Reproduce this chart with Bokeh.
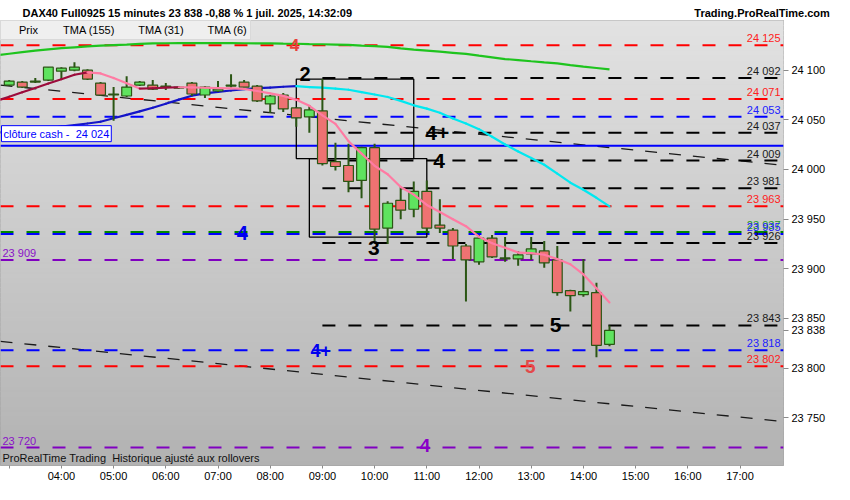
import numpy as np
from bokeh.plotting import figure
from bokeh.models import Range1d, FixedTicker, Label, Legend, LegendItem
from bokeh.embed import file_html
from bokeh.resources import INLINE

# ---------------- texts ----------------
title_text = "DAX40 Full0925 15 minutes 23 838 -0,88 % 1 juil. 2025, 14:32:09"
site_text = "Trading.ProRealTime.com"
footer_text = "ProRealTime Trading\u00a0 Historique ajusté aux rollovers"
cash_text = "clôture cash -\u00a0 24 024"
legend_labels = ["Prix", "TMA (155)", "TMA (31)", "TMA (6)"]

# ---------------- candles (15 minutes, from 03:00) ----------------
first_candle = "03:00"
candle_minutes = 15
opens = [24085, 24088, 24088, 24090, 24099, 24100, 24100, 24087, 24075, 24074,
         24085, 24085, 24084, 24082, 24087, 24075, 24079, 24084, 24088, 24084,
         24066, 24075, 24062, 24053, 24059, 24008, 24004, 23989, 24022, 23941,
         23969, 23960, 23978, 23944, 23939, 23923, 23907, 23931, 23910, 23910,
         23915, 23918, 23909, 23878, 23874, 23876, 23824]
highs = [24090, 24089, 24092, 24103, 24103, 24108, 24101, 24088, 24083, 24094,
         24089, 24090, 24087, 24084, 24088, 24084, 24089, 24096, 24090, 24085,
         24075, 24077, 24063, 24065, 24091, 24027, 24026, 24023, 24026, 23968,
         23983, 23988, 23989, 23970, 23941, 23925, 23934, 23934, 23932, 23918,
         23932, 23928, 23923, 23879, 23910, 23886, 23843]
lows = [24084, 24082, 24087, 24089, 24091, 24099, 24090, 24074, 24049, 24073,
        24084, 24080, 24080, 24081, 24074, 24072, 24078, 24082, 24082, 24068,
        24057, 24058, 24043, 24037, 24004, 23999, 23977, 23971, 23928, 23925,
        23950, 23952, 23936, 23936, 23910, 23867, 23904, 23911, 23907, 23903,
        23909, 23901, 23873, 23857, 23872, 23811, 23822]
closes = [24089, 24083, 24089, 24103, 24102, 24103, 24091, 24075, 24076, 24083,
          24088, 24081, 24083, 24083, 24076, 24083, 24081, 24085, 24083, 24069,
          24074, 24061, 24052, 24060, 24006, 24003, 23988, 24022, 23940, 23966,
          23959, 23978, 23941, 23941, 23923, 23909, 23931, 23912, 23911, 23914,
          23920, 23906, 23876, 23873, 23877, 23823, 23838]

# ---------------- moving averages (from 02:45, every 15 min) ----------------
tma155 = [24114.9, 24116.5, 24118.1, 24119.6, 24121.0, 24122.1, 24123.0, 24123.9,
          24124.7, 24125.3, 24125.8, 24126.4, 24127.0, 24127.1, 24127.2, 24127.3,
          24127.3, 24127.2, 24127.2, 24127.1, 24127.0, 24126.9, 24126.7, 24126.6,
          24126.3, 24126.1, 24125.8, 24125.4, 24124.7, 24124.2, 24123.5, 24121.9,
          24120.6, 24119.6, 24118.6, 24117.5, 24116.4, 24114.6, 24112.9, 24111.2,
          24110.2, 24109.0, 24107.9, 24106.9, 24105.1, 24103.5, 24102.2, 24100.8]
tma31 = [24037.2, 24038.1, 24038.9, 24039.9, 24041.4, 24043.1, 24044.6, 24046.3,
         24048.1, 24051.6, 24055.0, 24058.5, 24062.2, 24066.2, 24070.3, 24074.3,
         24076.7, 24078.1, 24079.5, 24080.9, 24081.9, 24082.5, 24083.3, 24083.9,
         24083.0, 24082.5, 24081.4, 24080.3, 24077.9, 24075.5, 24073.0, 24069.1,
         24064.6, 24061.3, 24057.1, 24051.4, 24046.4, 24040.6, 24033.0, 24025.2,
         24018.2, 24011.6, 24004.8, 23995.8, 23986.7, 23979.6, 23971.5, 23962.8]
tma6 = [24068.9, 24073.3, 24077.7, 24082.1, 24086.5, 24090.9, 24095.4, 24097.7,
        24096.7, 24092.1, 24086.9, 24081.5, 24081.8, 24082.4, 24082.8, 24082.6,
        24082.3, 24082.0, 24081.6, 24081.2, 24079.0, 24076.7, 24074.1, 24070.1,
        24064.1, 24054.5, 24045.9, 24028.5, 24016.0, 24003.7, 23995.2, 23982.4,
        23974.7, 23964.3, 23957.2, 23950.0, 23942.9, 23932.3, 23925.8, 23921.3,
        23916.4, 23915.8, 23914.2, 23909.8, 23904.6, 23894.3, 23880.4, 23866.2]

# ---------------- horizontal levels ----------------
level_prices = [24125, 24092, 24071, 24053, 24037, 24009, 23981, 23963, 23937,
                23935, 23926, 23909, 23843, 23818, 23802, 23720]
level_kinds = ["red", "black", "red", "blue", "black", "black", "black", "red", "green",
               "blue", "black", "purple", "black", "blue", "red", "purple"]
black_levels_from = "09:00"
cash_close = 24024
last_price = 23838

# ---------------- boxes and channel ----------------
box_starts = ["08:30", "08:45"]
box_ends = ["10:45", "11:00"]
box_tops = [24091, 24011]
box_bottoms = [24011, 23932]
trend_times = ["02:50", "17:52"]
trend_upper = [24085, 24004]
trend_lower = [23827, 23746]

# ---------------- wave counts ----------------
wave_texts = ["4", "2", "4+", "4", "3", "4", "5", "4+", "5", "4"]
wave_times = ["08:28", "08:40", "11:12", "11:14", "09:59", "07:28", "13:28", "08:58", "12:59", "10:58"]
wave_prices = [24125, 24096, 24037, 24009, 23921, 23936, 23843, 23818, 23802, 23722]
wave_kinds = ["red", "black", "black", "black", "black", "blue", "black", "blue", "red2", "purple"]

# ---------------- axes ----------------
hour_ticks = list(range(3, 18))
hour_labels = [""] + ["%02d:00" % h for h in range(4, 18)]
price_ticks = [23750, 23800, 23850, 23900, 23950, 24000, 24050, 24100]


def hm(s):
    h, m = s.split(":")
    return int(h) + int(m) / 60.0


def fmt(v):
    return "{:,}".format(int(v)).replace(",", " ")


# ---------------- styles ----------------
FONT = "Liberation Sans"
GREEN_UP = "#5fe35f"
RED_DN = "#ee7272"
OUTLINE = "#2b5614"
line_colors = {"red": "#ff0000", "black": "#000000", "blue": "#0000ff",
               "green": "#008800", "purple": "#8000c0"}
text_colors = {"red": "#ff2020", "black": "#1a1a1a", "blue": "#2020ff",
               "green": "#1f9a1f", "purple": "#8a10c8", "red2": "#e24a4a"}
wave_big = {"red": "#e8403a", "black": "#000000", "blue": "#0000ee",
            "purple": "#8a00c8", "red2": "#e24a4a"}
wave_sizes = ["17px", "20px", "21px", "21px", "21px", "20px", "21px", "18px", "19px", "19px"]

W, H = 834, 484
x0, x1 = hm("02:50"), hm("17:50")
y0, y1 = 23702, 24150

# title bar: title at left, site name pushed to the right with no-break spaces
bar_text = title_text + "\u00a0" * 112 + site_text

p = figure(width=W, height=H, x_range=Range1d(x0, x1), y_range=Range1d(y0, y1),
           output_backend="svg", toolbar_location=None, y_axis_location="right",
           min_border_left=0, min_border_right=51, min_border_top=20, min_border_bottom=18,
           title=bar_text)
p.grid.visible = False
p.border_fill_color = "white"
p.background_fill_color = "#cccccc"
p.outline_line_color = "#9a9a9a"
p.title.text_font = FONT
p.title.text_font_size = "11px"
p.title.text_font_style = "bold"
p.title.text_color = "#000000"
p.title.offset = 22
p.title.standoff = 3

# background gradient
nb = 90
ys = np.linspace(y0, y1, nb + 1)
shades = [int(round(178 + (226 - 178) * (k + 0.5) / nb)) for k in range(nb)]
bcols = ["#%02x%02x%02x" % (s, s, s) for s in shades]
p.quad(left=[x0] * nb, right=[x1] * nb, bottom=ys[:-1], top=ys[1:],
       fill_color=bcols, line_color=bcols, line_width=1)

# channel lines
tt = [hm(t) for t in trend_times]
p.line(tt, trend_upper, line_color="#1a1a1a", line_width=1.3, line_dash="12 12")
p.line(tt, trend_lower, line_color="#1a1a1a", line_width=1.3, line_dash="12 12")

# horizontal levels
for kind in ["red", "blue", "green", "purple", "black"]:
    ps = [v for v, k in zip(level_prices, level_kinds) if k == kind]
    start = hm(black_levels_from) if kind == "black" else x0
    p.segment(x0=[start] * len(ps), y0=ps, x1=[x1] * len(ps), y1=ps,
              line_color=line_colors[kind], line_width=2, line_dash="13 13")
p.segment(x0=[x0], y0=[cash_close], x1=[x1], y1=[cash_close], line_color="#0000ff", line_width=2)

# boxes
p.quad(left=[hm(t) for t in box_starts], right=[hm(t) for t in box_ends],
       top=box_tops, bottom=box_bottoms, fill_color=None, line_color="#000000", line_width=1.3)

# moving averages
tc = [hm(first_candle) + i * candle_minutes / 60.0 for i in range(len(opens))]
tl = [tc[0] - candle_minutes / 60.0] + tc

p.line(tl, tma155, line_color="#1ec41e", line_width=2.2)


def seg_cols(vals, up, dn):
    return [up if b >= a else dn for a, b in zip(vals[:-1], vals[1:])]


p.segment(x0=tl[:-1], y0=tma31[:-1], x1=tl[1:], y1=tma31[1:],
          line_color=seg_cols(tma31, "#1414c8", "#00e8f0"), line_width=2.2, line_cap="round")

# candles
cw = candle_minutes / 60.0 * 0.75
p.segment(x0=tc, y0=lows, x1=tc, y1=highs, line_color=OUTLINE, line_width=2)
tops = [max(o, c) for o, c in zip(opens, closes)]
bots = [min(o, c) if abs(o - c) >= 1 else min(o, c) - 0.6 for o, c in zip(opens, closes)]
ccols = [GREEN_UP if c >= o else RED_DN for o, c in zip(opens, closes)]
p.vbar(x=tc, width=cw, top=tops, bottom=bots, fill_color=ccols, line_color=OUTLINE, line_width=1.2)

p.segment(x0=tl[:-1], y0=tma6[:-1], x1=tl[1:], y1=tma6[1:],
          line_color=seg_cols(tma6, "#9c0c3c", "#ff7ba3"), line_width=2.2, line_cap="round")

# legend (swatches)
sw = []
for fc, lc in [(GREEN_UP, RED_DN), ("#10cc10", "#10cc10"), ("#1414c8", "#00e8f0"), ("#9c0c3c", "#ff7ba3")]:
    sw.append(p.quad(left=[], right=[], top=[], bottom=[], fill_color=fc, line_color=lc, line_width=2))
legend = Legend(items=[LegendItem(label=l, renderers=[r]) for l, r in zip(legend_labels, sw)],
                location="top_left", orientation="horizontal", margin=0, padding=3, spacing=9,
                glyph_width=11, glyph_height=11, label_standoff=4, label_height=11,
                label_text_font=FONT, label_text_font_size="11px", label_text_color="#000000",
                background_fill_color="#efefef", background_fill_alpha=1.0,
                border_line_color="#c4c4c4")
p.add_layout(legend)

# level labels
for v, k in zip(level_prices, level_kinds):
    if k == "purple":
        p.add_layout(Label(x=x0, x_offset=2, y=v, y_offset=1, text=fmt(v), text_align="left",
                           text_baseline="bottom", text_color=text_colors[k],
                           text_font=FONT, text_font_size="11px"))
    else:
        p.add_layout(Label(x=x1, x_offset=-3, y=v, y_offset=1, text=fmt(v), text_align="right",
                           text_baseline="bottom", text_color=text_colors[k],
                           text_font=FONT, text_font_size="11px"))

p.add_layout(Label(x=x0, x_offset=1, y=cash_close, y_offset=4, text=cash_text, text_align="left",
                   text_baseline="bottom", text_color="#0000ff", text_font=FONT, text_font_size="11px",
                   background_fill_color="white", border_line_color="#0000ff", padding=2))

# wave counts
for txt, t, v, k, sz in zip(wave_texts, wave_times, wave_prices, wave_kinds, wave_sizes):
    p.add_layout(Label(x=hm(t), y=v, text=txt, text_align="center", text_baseline="middle",
                       text_color=wave_big[k], text_font=FONT, text_font_size=sz,
                       text_font_style="bold"))

p.add_layout(Label(x=x0, x_offset=2, y=y0, y_offset=2, text=footer_text, text_align="left",
                   text_baseline="bottom", text_font=FONT, text_font_size="11px", text_color="#111111"))

# axes (last price shown as an extra tick on the price axis)
yt = sorted(price_ticks + [last_price])
p.yaxis.ticker = FixedTicker(ticks=yt)
p.yaxis.major_label_overrides = {t: fmt(t) for t in yt}
p.yaxis.major_label_text_font = FONT
p.yaxis.major_label_text_font_size = "11px"
p.yaxis.major_label_text_color = "#000000"
p.yaxis.axis_line_color = None
p.yaxis.major_tick_line_color = "#8a8a8a"
p.yaxis.major_tick_out = 5
p.yaxis.major_tick_in = 0
p.yaxis.minor_tick_line_color = None
p.yaxis.major_label_standoff = 3

p.xaxis.ticker = FixedTicker(ticks=hour_ticks)
p.xaxis.major_label_overrides = {t: l for t, l in zip(hour_ticks, hour_labels)}
p.xaxis.major_label_text_font = FONT
p.xaxis.major_label_text_font_size = "11px"
p.xaxis.major_label_text_color = "#000000"
p.xaxis.axis_line_color = None
p.xaxis.major_tick_line_color = "#8a8a8a"
p.xaxis.major_tick_out = 3
p.xaxis.major_tick_in = 0
p.xaxis.minor_tick_line_color = None
p.xaxis.major_label_standoff = 1

open("out.html", "w").write(file_html(p, INLINE))
